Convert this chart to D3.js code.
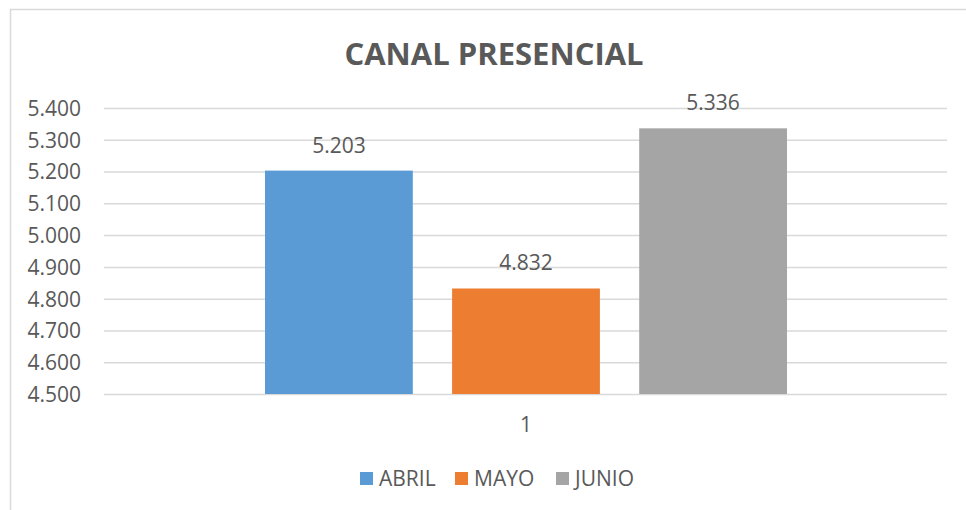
<!DOCTYPE html>
<meta charset="utf-8">
<title>Canal presencial</title>
<style>
  body { margin: 0; background: #fff; }
  text { font-family: "Open Sans", sans-serif; fill: #595959; }
</style>
<svg id="chart" width="966" height="510"></svg>
<script src="https://cdn.jsdelivr.net/npm/d3@7"></script>
<script>

var categories = ["1"];
var series = ["ABRIL", "MAYO", "JUNIO"];
var values = [5203, 4832, 5336];
var colors = ["#5B9BD5", "#ED7D31", "#A5A5A5"];
var yTicks = [4500, 4600, 4700, 4800, 4900, 5000, 5100, 5200, 5300, 5400];

var svg = d3.select("#chart");

// spanish number format: 5.203
var es = d3.formatLocale({decimal: ",", thousands: ".", grouping: [3], currency: ["", " €"]});
var fmt = es.format(",d");

var margin = {top: 108, left: 104, bottom: 116, right: 19}
  , width = 966 - margin.left - margin.right
  , height = 510 - margin.top - margin.bottom;

// chart frame (only left/top visible in the crop)
svg.append("path")
  .attr("d", "M10.5,510 V9.5 H966")
  .attr("fill", "none")
  .attr("stroke", "#d9d9d9")
  .attr("stroke-width", 1.5);

svg.append("text")
  .attr("x", 494)
  .attr("y", 65)
  .attr("text-anchor", "middle")
  .style("font-size", "31px")
  .style("font-weight", "bold")
  .text("CANAL PRESENCIAL");

var g = svg.append("g")
  .attr("transform", "translate(" + margin.left + "," + margin.top + ")");

var y = d3.scaleLinear()
  .domain([4500, 5400])
  .range([height, 0]);

var x0 = d3.scaleBand()
  .domain(categories)
  .range([0, width]);

var x1 = d3.scaleBand()
  .domain(series)
  .range([161, 683])
  .paddingInner(0.21);

var yAxis = g.append("g")
  .call(d3.axisLeft(y).tickValues(yTicks).tickSize(-width).tickFormat(fmt));
yAxis.select(".domain").remove();
yAxis.selectAll(".tick line").attr("stroke", "#d9d9d9").attr("stroke-width", 1.5);
yAxis.selectAll(".tick text")
  .attr("x", -23)
  .attr("dy", "0.35em")
  .style("font-size", "21px");

var bars = g.append("g")
  .selectAll("g")
  .data(categories)
  .join("g")
  .attr("transform", function(d) { return "translate(" + x0(d) + ",0)"; });

bars.selectAll("rect")
  .data(series.map(function(s, i) { return {name: s, value: values[i], color: colors[i]}; }))
  .join("rect")
  .attr("x", function(d) { return x1(d.name); })
  .attr("y", function(d) { return y(d.value); })
  .attr("width", x1.bandwidth())
  .attr("height", function(d) { return height - y(d.value); })
  .attr("fill", function(d) { return d.color; });

bars.selectAll(".lbl")
  .data(series.map(function(s, i) { return {name: s, value: values[i]}; }))
  .join("text")
  .attr("class", "lbl")
  .attr("x", function(d) { return x1(d.name) + x1.bandwidth() / 2; })
  .attr("y", function(d) { return y(d.value) - 18; })
  .attr("text-anchor", "middle")
  .style("font-size", "21px")
  .text(function(d) { return fmt(d.value); });

// category label
g.selectAll(".cat")
  .data(categories)
  .join("text")
  .attr("class", "cat")
  .attr("x", function(d) { return x0(d) + x1(series[1]) + x1.bandwidth() / 2; })
  .attr("y", height + 38)
  .attr("text-anchor", "middle")
  .style("font-size", "21px")
  .text(function(d) { return d; });

// legend
var legendX = [360, 455, 556];
var legend = svg.append("g")
  .selectAll("g")
  .data(series)
  .join("g")
  .attr("transform", function(d, i) { return "translate(" + legendX[i] + ",472)"; });

legend.append("rect")
  .attr("width", 13)
  .attr("height", 13)
  .attr("fill", function(d, i) { return colors[i]; });

legend.append("text")
  .attr("x", 19)
  .attr("y", 14)
  .style("font-size", "21px")
  .text(function(d) { return d; });

</script>
